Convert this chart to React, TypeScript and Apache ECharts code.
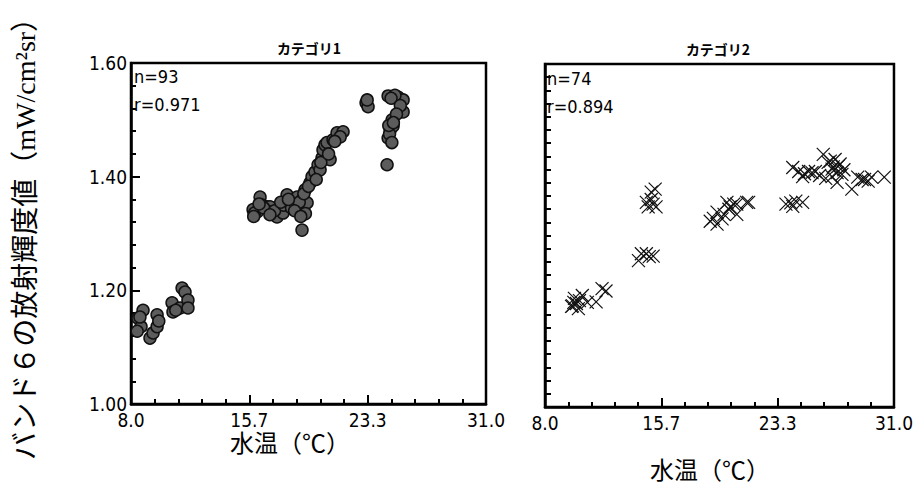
import React, { useEffect, useRef } from "react";
import * as echarts from "echarts";

const panelTitles = ["カテゴリ1", "カテゴリ2"];
const statsN = ["n=93", "n=74"];
const statsR = ["r=0.971", "r=0.894"];
const xAxisName = "水温（℃）";
const yAxisName = "バンド６の放射輝度値（mW/cm²sr）";

const xMin = 8.0;
const xMax = 31.0;
const xStep = 23 / 3; // labels 8.0, 15.7, 23.3, 31.0
const yMin = 1.0;
const yMax = 1.6;
const yStep = 0.2; // labels 1.00, 1.20, 1.40, 1.60

// カテゴリ1 (circles)
const cat1Temp = [
  8.45, 8.65, 8.78, 8.58, 8.4, 9.23, 9.43, 9.69, 9.69, 9.8, 10.66, 10.72, 11.18, 11.31, 11.5, 11.69, 11.69, 10.9,
  15.91, 16.17, 16.36, 16.49, 16.81, 17.01, 17.14, 17.46, 17.66, 17.85, 18.11, 18.3, 18.5, 18.76, 18.95, 19.08,
  19.08, 19.08, 19.41, 19.28, 19.6, 19.73, 19.92, 20.12, 20.25, 20.38, 20.44, 20.57, 20.7, 20.9, 21.09, 21.35,
  21.74, 21.55, 16.0, 16.6, 17.3, 17.9, 18.4, 18.9, 19.2, 19.3, 16.3, 17.0, 17.7, 18.6, 19.0, 19.5, 20.0, 20.3,
  20.8, 21.2, 15.95, 18.2,
  23.23, 23.36, 23.3, 24.66, 24.98, 25.3, 25.63, 25.63, 24.92, 24.79, 24.98, 24.66, 24.59, 25.1, 24.85, 25.45,
  24.75, 25.2, 24.7, 25.0, 24.9,
];
const cat1Rad = [
  1.151, 1.136, 1.165, 1.153, 1.128, 1.116, 1.125, 1.136, 1.157, 1.146, 1.178, 1.162, 1.169, 1.204, 1.197, 1.183, 1.169, 1.165,
  1.342, 1.338, 1.364, 1.35, 1.347, 1.347, 1.338, 1.329, 1.342, 1.336, 1.368, 1.356, 1.35, 1.364, 1.345, 1.359,
  1.342, 1.306, 1.354, 1.377, 1.389, 1.4, 1.408, 1.421, 1.412, 1.433, 1.447, 1.456, 1.46, 1.43, 1.465, 1.477,
  1.479, 1.47, 1.336, 1.345, 1.34, 1.35, 1.345, 1.355, 1.37, 1.335, 1.352, 1.333, 1.355, 1.34, 1.33, 1.383, 1.395, 1.425,
  1.44, 1.462, 1.33, 1.36,
  1.53, 1.523, 1.535, 1.542, 1.539, 1.54, 1.535, 1.514, 1.5, 1.482, 1.489, 1.468, 1.421, 1.543, 1.538, 1.525,
  1.475, 1.51, 1.49, 1.495, 1.46,
];

// カテゴリ2 (crosses)
const cat2Temp = [
  9.75, 9.81, 10.07, 10.27, 10.46, 9.94, 11.37, 11.76, 12.02, 10.79, 10.2, 9.9,
  14.16, 14.35, 14.68, 15.13, 14.87,
  14.68, 14.8, 15.0, 15.13, 15.26, 15.0, 15.32,
  18.89, 19.34, 19.34, 19.8, 19.99, 20.12, 20.44, 20.64, 20.64, 21.29, 21.42, 19.67, 20.2, 19.1,
  23.88, 24.33, 24.53, 24.98, 24.2,
  24.33, 24.72, 24.98, 25.37, 25.82, 26.34, 26.66, 27.12, 26.92, 27.31, 27.25, 26.92, 27.57, 27.25, 28.22,
  28.61, 29.06, 29.52, 30.36, 25.6, 26.1, 27.0, 27.7, 26.5, 28.9, 29.3, 25.1, 27.45, 26.8,
];
const cat2Rad = [
  1.176, 1.177, 1.181, 1.186, 1.195, 1.19, 1.184, 1.207, 1.203, 1.183, 1.172, 1.183,
  1.256, 1.268, 1.268, 1.264, 1.263,
  1.358, 1.35, 1.363, 1.355, 1.381, 1.376, 1.35,
  1.325, 1.32, 1.341, 1.337, 1.358, 1.346, 1.355, 1.337, 1.355, 1.358, 1.358, 1.329, 1.35, 1.33,
  1.355, 1.351, 1.36, 1.358, 1.357,
  1.419, 1.412, 1.403, 1.412, 1.412, 1.442, 1.428, 1.433, 1.416, 1.421, 1.41, 1.403, 1.407, 1.393, 1.381,
  1.402, 1.398, 1.402, 1.402, 1.41, 1.405, 1.42, 1.415, 1.4, 1.398, 1.395, 1.408, 1.425, 1.43,
];

const pairs = (xs: number[], ys: number[]) => xs.map((x, i) => [x, ys[i]]);

const yRightTicks = Array.from({ length: 27 }, (_, i) => yMin + (i * (yMax - yMin)) / 26);

const tickFont = "'Liberation Sans Narrow', 'DejaVu Sans Condensed', 'Noto Sans', sans-serif";
const cjkFont = "'Noto Sans CJK JP', sans-serif";

const axisLine = { show: true, lineStyle: { color: "#000", width: 2.5 } };
const tickLine = { color: "#000", width: 2 };

export default function App() {
  const ref = useRef<HTMLDivElement>(null);
  useEffect(() => {
    if (!ref.current) return;
    const chart = echarts.init(ref.current, undefined, { renderer: "svg" });

    const xAxisFor = (gridIndex: number) => ({
      type: "value",
      gridIndex,
      min: xMin,
      max: xMax,
      interval: xStep,
      position: "bottom",
      axisLine,
      splitLine: { show: false },
      axisTick: { show: true, inside: true, length: 9, lineStyle: tickLine },
      minorTick: { show: true, splitNumber: 5, length: 5, lineStyle: tickLine },
      axisLabel: {
        show: true,
        formatter: (v: number) => v.toFixed(1),
        color: "#000",
        fontSize: 19,
        fontFamily: tickFont,
        margin: 6,
        showMinLabel: true,
        showMaxLabel: true,
      },
    });

    const option: any = {
      animation: false,
      backgroundColor: "#fff",
      grid: [
        { left: 131, top: 63, width: 355, height: 341, show: true, borderColor: "#000", borderWidth: 2.5, backgroundColor: "transparent" },
        { left: 545, top: 64, width: 356, height: 343, show: true, borderColor: "#000", borderWidth: 2.5, backgroundColor: "transparent" },
      ],
      xAxis: [xAxisFor(0), xAxisFor(1)],
      yAxis: [
        {
          type: "value",
          gridIndex: 0,
          min: yMin,
          max: yMax,
          interval: yStep,
          axisLine,
          splitLine: { show: false },
          axisTick: { show: true, inside: true, length: 9, lineStyle: tickLine },
          minorTick: { show: true, splitNumber: 5, length: 5, lineStyle: tickLine },
          axisLabel: {
            show: true,
            formatter: (v: number) => v.toFixed(2),
            color: "#000",
            fontSize: 19,
            fontFamily: tickFont,
            margin: 4,
          },
        },
        {
          type: "value",
          gridIndex: 1,
          min: yMin,
          max: yMax,
          axisLine,
          splitLine: { show: false },
          axisTick: { show: true, inside: true, length: 6, customValues: yRightTicks, lineStyle: tickLine },
          axisLabel: { show: false },
        },
      ],
      series: [
        {
          type: "scatter",
          xAxisIndex: 0,
          yAxisIndex: 0,
          data: pairs(cat1Temp, cat1Rad),
          symbol: "circle",
          symbolSize: 12,
          itemStyle: { color: "#5c5c5c", borderColor: "#111", borderWidth: 1.5, opacity: 1 },
        },
        {
          type: "scatter",
          xAxisIndex: 1,
          yAxisIndex: 1,
          data: pairs(cat2Temp, cat2Rad),
          symbol: "path://M0,0L20,20M20,0L0,20",
          symbolSize: 13,
          itemStyle: { color: "rgba(0,0,0,0)", borderColor: "#111", borderWidth: 1.2, opacity: 1 },
        },
      ],
      graphic: [
        { type: "text", x: 309, y: 48, style: { text: panelTitles[0], fontSize: 14, fontWeight: "bold", fontFamily: cjkFont, fill: "#000", align: "center", verticalAlign: "middle" } },
        { type: "text", x: 718, y: 49, style: { text: panelTitles[1], fontSize: 14, fontWeight: "bold", fontFamily: cjkFont, fill: "#000", align: "center", verticalAlign: "middle" } },
        { type: "text", x: 134, y: 76, style: { text: statsN[0], fontSize: 18, fontFamily: tickFont, fill: "#000", align: "left", verticalAlign: "middle" } },
        { type: "text", x: 134, y: 104, style: { text: statsR[0], fontSize: 18, fontFamily: tickFont, fill: "#000", align: "left", verticalAlign: "middle" } },
        { type: "text", x: 547, y: 78, style: { text: statsN[1], fontSize: 18, fontFamily: tickFont, fill: "#000", align: "left", verticalAlign: "middle" } },
        { type: "text", x: 547, y: 106, style: { text: statsR[1], fontSize: 18, fontFamily: tickFont, fill: "#000", align: "left", verticalAlign: "middle" } },
        { type: "text", x: 290, y: 441, style: { text: xAxisName, fontSize: 24, fontFamily: cjkFont, fill: "#000", align: "center", verticalAlign: "middle" } },
        { type: "text", x: 710, y: 468, style: { text: xAxisName, fontSize: 24, fontFamily: cjkFont, fill: "#000", align: "center", verticalAlign: "middle" } },
        {
          type: "text",
          x: 25,
          y: 232,
          rotation: Math.PI / 2,
          style: {
            text: yAxisName,
            fontSize: 28,
            fontFamily: "'Liberation Serif', 'Noto Sans CJK JP', serif",
            fill: "#000",
            align: "center",
            verticalAlign: "middle",
          },
        },
      ],
    };
    chart.setOption(option);
    return () => chart.dispose();
  }, []);
  return <div ref={ref} style={{ position: "absolute", left: 0, top: 0, width: 916, height: 491 }} />;
}
